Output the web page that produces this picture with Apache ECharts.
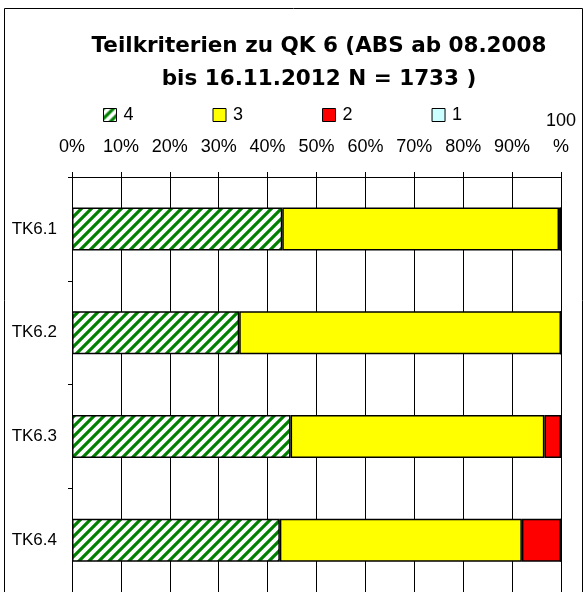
<!DOCTYPE html>
<html>
<head>
<meta charset="utf-8">
<script src="https://cdn.jsdelivr.net/npm/echarts@6/dist/echarts.min.js"></script>
<style>
  html, body { margin: 0; background: #fff; }
  #chart { width: 587px; height: 592px; }
</style>
</head>
<body>
<div id="chart"></div>
<script>
// Teilkriterien zu QK 6 - Anteile in Prozent
const categories = ["TK6.1", "TK6.2", "TK6.3", "TK6.4"];
const seriesNames = ["4", "3", "2", "1"];
const val4 = [43.0, 34.2, 44.7, 42.5];
const val3 = [56.6, 65.8, 51.9, 49.5];
const val2 = [0.4, 0, 3.4, 8.0];
const val1 = [0, 0, 0, 0];
const titleLines = ["Teilkriterien zu QK 6 (ABS ab 08.2008", "bis 16.11.2012 N = 1733 )"];

const FONT = "Liberation Sans";

// hatch pattern for series "4"
function makeHatch() {
  const s = 10;
  const c = document.createElement("canvas");
  c.width = s;
  c.height = s;
  const ctx = c.getContext("2d");
  ctx.fillStyle = "#fff";
  ctx.fillRect(0, 0, s, s);
  ctx.strokeStyle = "#008000";
  ctx.lineWidth = 3.2;
  ctx.beginPath();
  ctx.moveTo(-2, 2); ctx.lineTo(2, -2);
  ctx.moveTo(0, s); ctx.lineTo(s, 0);
  ctx.moveTo(s - 2, s + 2); ctx.lineTo(s + 2, s - 2);
  ctx.stroke();
  return c;
}

const colors = [
  { image: makeHatch(), repeat: "repeat" },
  "#ffff00",
  "#ff0000",
  "#ccffff"
];
const values = [val4, val3, val2, val1];

const chart = echarts.init(document.getElementById("chart"));

chart.setOption({
  animation: false,
  textStyle: { fontFamily: FONT },
  graphic: [
    {
      type: "rect",
      shape: { x: 4.5, y: 8.5, width: 578, height: 620 },
      style: { fill: "none", stroke: "#000", lineWidth: 1 },
      silent: true
    },
    {
      type: "text",
      x: 319,
      y: 57,
      style: {
        text: titleLines[0],
        textAlign: "center",
        textVerticalAlign: "bottom",
        font: "bold 21.5px 'DejaVu Sans'",
        fill: "#000"
      }
    },
    {
      type: "text",
      x: 319,
      y: 90,
      style: {
        text: titleLines[1],
        textAlign: "center",
        textVerticalAlign: "bottom",
        font: "bold 21.5px 'DejaVu Sans'",
        fill: "#000"
      }
    }
  ],
  legend: {
    data: seriesNames,
    left: 98,
    top: 101,
    itemWidth: 13,
    itemHeight: 13,
    itemGap: 79,
    icon: "rect",
    itemStyle: { borderColor: "#000", borderWidth: 1 },
    textStyle: { fontFamily: FONT, fontSize: 18, color: "#000", padding: [0, 0, 0, 2] }
  },
  grid: {
    left: 72,
    top: 177,
    width: 489,
    height: 419
  },
  xAxis: {
    type: "value",
    position: "top",
    min: 0,
    max: 100,
    interval: 10,
    axisLine: { show: true, lineStyle: { color: "#000", width: 1 } },
    axisTick: { show: true, length: 5, lineStyle: { color: "#000" } },
    axisLabel: {
      fontFamily: FONT,
      fontSize: 18,
      color: "#000",
      margin: 17,
      lineHeight: 26,
      formatter: v => (v === 100 ? "100\n%" : v + "%")
    },
    splitLine: { show: true, lineStyle: { color: "#000", width: 1 } }
  },
  yAxis: {
    type: "category",
    inverse: true,
    data: categories,
    axisLine: { show: true, lineStyle: { color: "#000", width: 1 } },
    axisTick: { show: true, length: 4, lineStyle: { color: "#000" } },
    axisLabel: { fontFamily: FONT, fontSize: 17, color: "#000", margin: 15 }
  },
  series: seriesNames.map((name, i) => ({
    name: name,
    type: "bar",
    stack: "total",
    barWidth: 43,
    data: values[i],
    itemStyle: {
      color: colors[i],
      borderColor: "#000",
      borderWidth: 1.5
    }
  }))
});
</script>
</body>
</html>
